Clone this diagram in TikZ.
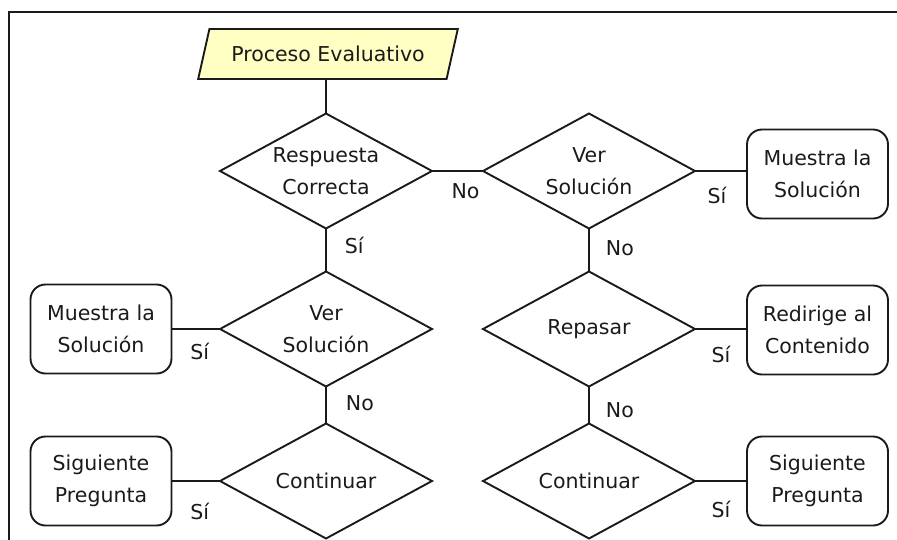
\documentclass[tikz,border=0pt]{standalone}
\usepackage{fontspec}
\setmainfont{DejaVu Sans}
\usetikzlibrary{shapes.geometric}
\definecolor{inputfill}{HTML}{FFFFC4}
\definecolor{ink}{HTML}{1A1A1A}
\begin{document}
\begin{tikzpicture}[x=1pt,y=-1pt,
  every node/.style={font=\fontsize{20.5}{32}\selectfont, text=ink},
  decision/.style={diamond, aspect=1.84, draw=ink, line width=1.9pt, minimum width=212pt,
    minimum height=115pt, inner sep=0pt, outer sep=0pt, align=center},
  outcome/.style={rectangle, rounded corners=15pt, draw=ink, line width=1.9pt,
    minimum width=141pt, minimum height=89pt, inner sep=0pt, outer sep=0pt, align=center},
  inputbox/.style={trapezium, trapezium left angle=60, trapezium right angle=120,
    trapezium stretches=true, draw=ink, fill=inputfill, line width=1.9pt,
    minimum width=260pt, minimum height=50pt, inner sep=0pt, outer sep=0pt},
  link/.style={draw=ink, line width=1.9pt},
  tag/.style={inner sep=0pt}
]
\useasboundingbox (0,0) rectangle (897,539);

% frame
\draw[draw=ink, line width=2.2pt] (9,540) -- (9,12) -- (897,12);

% start
\node[inputbox] (start) at (328,54) {Proceso Evaluativo};

% decisions
\node[decision] (d1) at (326,171) {Respuesta\\Correcta};
\node[decision] (d2) at (589,171) {Ver\\Solución};
\node[decision] (d3) at (326,329) {Ver\\Solución};
\node[decision] (d4) at (326,481) {Continuar};
\node[decision] (d5) at (589,329) {Repasar};
\node[decision] (d6) at (589,481) {Continuar};

% outcomes
\node[outcome] (b1) at (817.5,174) {Muestra la\\Solución};
\node[outcome] (b2) at (101,329) {Muestra la\\Solución};
\node[outcome] (b3) at (101,481) {Siguiente\\Pregunta};
\node[outcome] (b4) at (817.5,330) {Redirige al\\Contenido};
\node[outcome] (b5) at (817.5,481) {Siguiente\\Pregunta};

% connectors
\draw[link] (start.south -| d1.north) -- (d1.north);
\draw[link] (d1.east) -- node[tag, below, yshift=-12pt, xshift=8pt] {No} (d2.west);
\draw[link] (d2.east) -- node[tag, below, yshift=-15pt, xshift=-4pt] {Sí} (d2.east -| b1.west);
\draw[link] (d1.south) -- node[tag, right, xshift=18pt, yshift=5pt] {Sí} (d3.north);
\draw[link] (d2.south) -- node[tag, right, xshift=16pt, yshift=2pt] {No} (d5.north);
\draw[link] (d3.south) -- node[tag, right, xshift=19pt, yshift=2pt] {No} (d4.north);
\draw[link] (d5.south) -- node[tag, right, xshift=16pt, yshift=-5pt] {No} (d6.north);
\draw[link] (d3.west) -- node[tag, below, yshift=-13pt, xshift=4pt] {Sí} (d3.west -| b2.east);
\draw[link] (d5.east) -- node[tag, below, yshift=-16pt] {Sí} (d5.east -| b4.west);
\draw[link] (d4.west) -- node[tag, below, yshift=-21pt, xshift=4pt] {Sí} (d4.west -| b3.east);
\draw[link] (d6.east) -- node[tag, below, yshift=-19pt] {Sí} (d6.east -| b5.west);
\end{tikzpicture}
\end{document}
